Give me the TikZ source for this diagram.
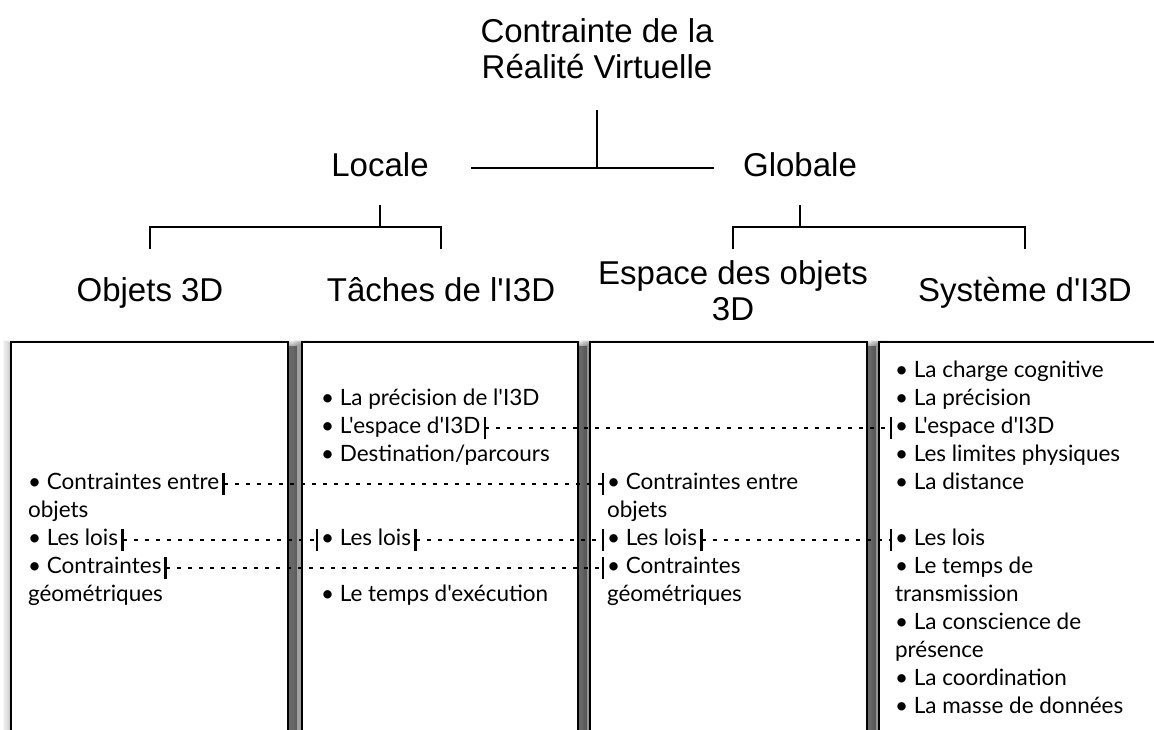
\documentclass[tikz,border=0pt]{standalone}
\usepackage{fontspec}
\newfontfamily\headfont{Liberation Sans}[Ligatures=TeXOff]
\newfontfamily\itemfont{Lato}[Ligatures=TeXOff]
\usetikzlibrary{arrows.meta, positioning}

\begin{document}
\begin{tikzpicture}[
    x=1pt, y=1pt,
    title/.style={font=\headfont\fontsize{33}{36}\selectfont, align=center, inner sep=0pt, anchor=north},
    level/.style={font=\headfont\fontsize{33}{36}\selectfont, inner sep=0pt, text height=24pt, text depth=7pt, anchor=base},
    branch/.style={draw, line width=2pt},
    column/.style={draw, line width=2.6pt, fill=white},
    item/.style={font=\itemfont\fontsize{22.5}{28}\selectfont, inner sep=0pt, outer xsep=3pt, outer ysep=0pt, text height=16pt, text depth=5pt, anchor=base west},
    nextline/.style={below=7pt of #1.south west, anchor=north west},
    skipline/.style={below=35pt of #1.south west, anchor=north west},
    link/.style={draw, line width=2pt, dash pattern=on 4pt off 7pt, arrows={Bar[width=22pt, line width=2.4pt]-Bar[width=22pt, line width=2.4pt]}}
]
\useasboundingbox (0,0) rectangle (1154,730);
\clip (0,0) rectangle (1154,730);

\node[title] (root_constraint) at (597,712) {Contrainte de la\\Réalité Virtuelle};
\node[level] (local_level) at (380,553) {Locale};
\node[level] (global_level) at (800,553) {Globale};
\node[level] (objects_3d) at (150,428) {Objets 3D};
\node[level] (tasks_i3d) at (441,428) {Tâches de l'I3D};
\node[title] (space_objects) at (733,470) {Espace des objets\\3D};
\node[level] (system_i3d) at (1025,428) {Système d'I3D};

\coordinate[below=43pt of local_level.south] (local_fork);
\coordinate[below=43pt of global_level.south] (global_fork);

\draw[branch, shorten <=31pt] (root_constraint.south) -- (root_constraint.south |- local_level.east);
\draw[branch, shorten <=42pt, shorten >=29pt] (local_level.east) -- (global_level.west);
\draw[branch, shorten <=21pt] (local_level.south) -- (local_fork);
\draw[branch, shorten <=21pt] (global_level.south) -- (global_fork);
\draw[branch, shorten >=29pt] (local_fork) -| (objects_3d.north);
\draw[branch, shorten >=29pt] (local_fork) -| (tasks_i3d.north);
\draw[branch, shorten >=11pt] (global_fork) -| (space_objects.north);
\draw[branch, shorten >=29pt] (global_fork) -| (system_i3d.north);

\foreach \xa/\xb in {11/288, 302/578, 590/867, 879/1180} {
    \fill[black!40] (\xa+4,-10) rectangle (\xb+9,384);
    \foreach \s in {1,...,10}
        \fill[black, opacity=0.035] (\xa+4-1.2*\s,-10) rectangle (\xb+9+1.2*\s,384+0.6*\s);
}
\foreach \xa/\xb in {11/288, 302/578, 590/867, 879/1180}
    \draw[column] (\xa,-10) rectangle (\xb,388);

\node[item] (obj_between) at (25,240) {• Contraintes entre};
\node[item, nextline=obj_between] (obj_between_wrap) {objets};
\node[item, nextline=obj_between_wrap] (obj_laws) {• Les lois};
\node[item, nextline=obj_laws] (obj_geometric) {• Contraintes};
\node[item, nextline=obj_geometric] (obj_geometric_wrap) {géométriques};

\node[item] (task_precision) at (318,324) {• La précision de l'I3D};
\node[item, nextline=task_precision] (task_space) {• L'espace d'I3D};
\node[item, nextline=task_space] (task_destination) {• Destination/parcours};
\node[item, below=63pt of task_destination.south west, anchor=north west] (task_laws) {• Les lois};
\node[item, skipline=task_laws] (task_time) {• Le temps d'exécution};

\node[item] (space_between) at (604,240) {• Contraintes entre};
\node[item, nextline=space_between] (space_between_wrap) {objets};
\node[item, nextline=space_between_wrap] (space_laws) {• Les lois};
\node[item, nextline=space_laws] (space_geometric) {• Contraintes};
\node[item, nextline=space_geometric] (space_geometric_wrap) {géométriques};

\node[item] (sys_load) at (892,352) {• La charge cognitive};
\node[item, nextline=sys_load] (sys_precision) {• La précision};
\node[item, nextline=sys_precision] (sys_space) {• L'espace d'I3D};
\node[item, nextline=sys_space] (sys_limits) {• Les limites physiques};
\node[item, nextline=sys_limits] (sys_distance) {• La distance};
\node[item, skipline=sys_distance] (sys_laws) {• Les lois};
\node[item, nextline=sys_laws] (sys_transmission) {• Le temps de};
\node[item, nextline=sys_transmission] (sys_transmission_wrap) {transmission};
\node[item, nextline=sys_transmission_wrap] (sys_presence) {• La conscience de};
\node[item, nextline=sys_presence] (sys_presence_wrap) {présence};
\node[item, nextline=sys_presence_wrap] (sys_coordination) {• La coordination};
\node[item, nextline=sys_coordination] (sys_data) {• La masse de données};

\draw[link] (task_space.east) -- (sys_space.west);
\draw[link] (obj_between.east) -- (space_between.west);
\draw[link] (obj_laws.east) -- (task_laws.west);
\draw[link] (task_laws.east) -- (space_laws.west);
\draw[link] (space_laws.east) -- (sys_laws.west);
\draw[link] (obj_geometric.east) -- (space_geometric.west);
\end{tikzpicture}
\end{document}
